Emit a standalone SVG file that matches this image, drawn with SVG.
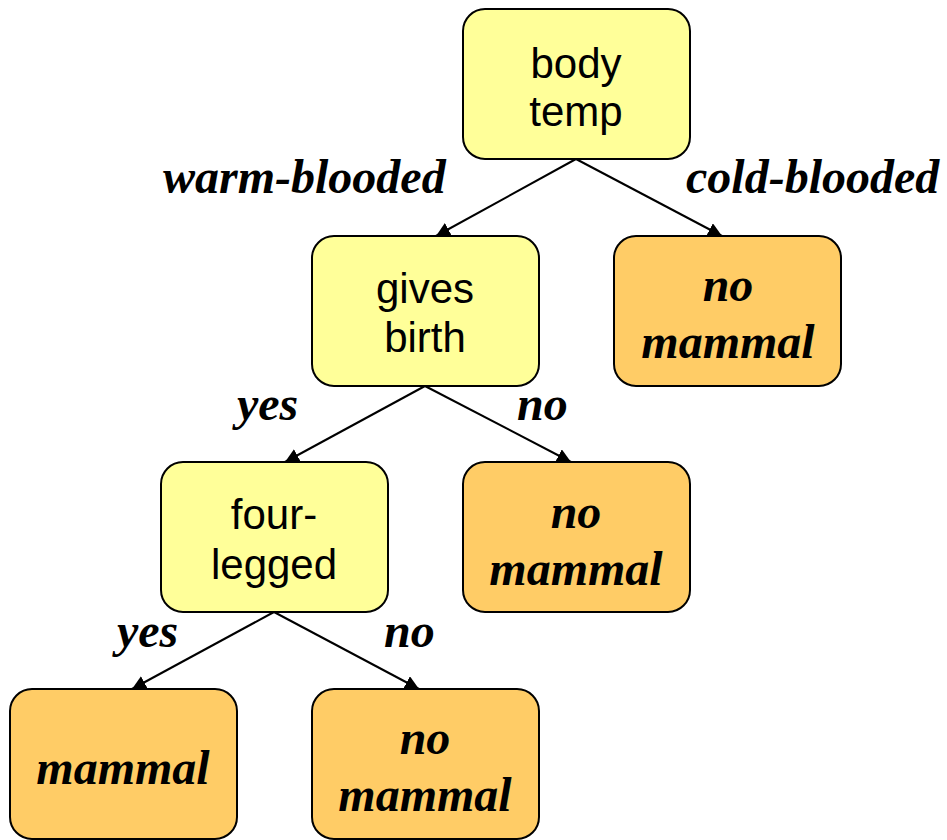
<svg xmlns="http://www.w3.org/2000/svg" width="947" height="840" viewBox="0 0 947 840">
<style>
.box{stroke:#000;stroke-width:2}
.q{fill:#FFFF99}
.leaf{fill:#FFCC66}
.nt{font-family:"Liberation Sans",Arial,sans-serif;font-size:42px;fill:#000;text-anchor:middle}
.lt{font-family:"Liberation Serif","Times New Roman",serif;font-size:48px;font-weight:bold;font-style:italic;fill:#000;text-anchor:middle}
.el{font-family:"Liberation Serif","Times New Roman",serif;font-size:48px;font-weight:bold;font-style:italic;fill:#000}
.edge{stroke:#000;stroke-width:2;fill:none;marker-end:url(#ah)}
</style>
<defs>
<marker id="ah" viewBox="0 0 10 10" refX="10" refY="5" markerWidth="7" markerHeight="7" orient="auto" markerUnits="strokeWidth">
<path d="M0,0 L10,5 L0,10 z" fill="#000"/>
</marker>
</defs>
<rect width="947" height="840" fill="#fff"/>
<g id="connectors">
<line class="edge" x1="576" y1="159" x2="436" y2="236"/>
<line class="edge" x1="576" y1="159" x2="722" y2="236"/>
<line class="edge" x1="425" y1="386" x2="285" y2="462"/>
<line class="edge" x1="425" y1="386" x2="571" y2="462"/>
<line class="edge" x1="274" y1="612" x2="132" y2="689"/>
<line class="edge" x1="274" y1="612" x2="419" y2="689"/>
</g>
<g id="edge-labels">
<text class="el" x="163" y="193">warm-blooded</text>
<text class="el" x="686" y="193">cold-blooded</text>
<text class="el" x="237" y="420">yes</text>
<text class="el" x="517" y="420">no</text>
<text class="el" x="117" y="647">yes</text>
<text class="el" x="384" y="647">no</text>
</g>
<g id="n-bodytemp">
<rect class="box q" x="463" y="9" width="227" height="150" rx="22"/>
<text class="nt" x="576" y="78">body</text>
<text class="nt" x="576" y="126">temp</text>
</g>
<g id="n-givesbirth">
<rect class="box q" x="312" y="236" width="227" height="150" rx="22"/>
<text class="nt" x="425" y="303">gives</text>
<text class="nt" x="425" y="352">birth</text>
</g>
<g id="n-nomammal1">
<rect class="box leaf" x="614" y="236" width="227" height="150" rx="22"/>
<text class="lt" x="728" y="301">no</text>
<text class="lt" x="728" y="358">mammal</text>
</g>
<g id="n-fourlegged">
<rect class="box q" x="161" y="462" width="227" height="150" rx="22"/>
<text class="nt" x="274" y="529">four-</text>
<text class="nt" x="274" y="579">legged</text>
</g>
<g id="n-nomammal2">
<rect class="box leaf" x="463" y="462" width="227" height="150" rx="22"/>
<text class="lt" x="576" y="528">no</text>
<text class="lt" x="576" y="585">mammal</text>
</g>
<g id="n-mammal">
<rect class="box leaf" x="10" y="689" width="227" height="150" rx="22"/>
<text class="lt" x="123" y="784">mammal</text>
</g>
<g id="n-nomammal3">
<rect class="box leaf" x="312" y="689" width="227" height="150" rx="22"/>
<text class="lt" x="425" y="754">no</text>
<text class="lt" x="425" y="811">mammal</text>
</g>
</svg>
